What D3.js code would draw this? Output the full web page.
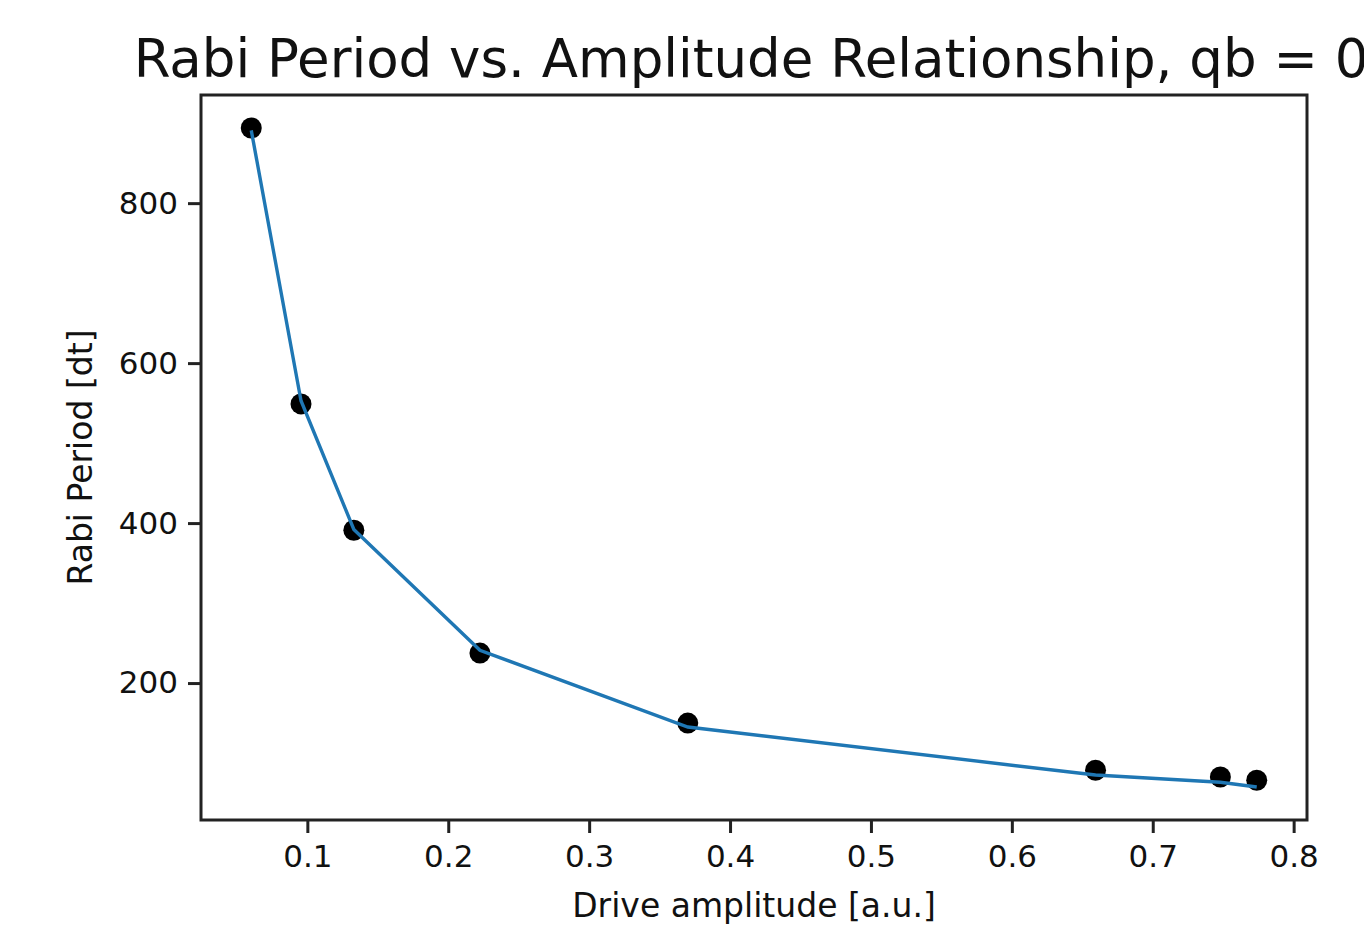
<!DOCTYPE html>
<html>
<head>
<meta charset="utf-8">
<script src="https://cdn.jsdelivr.net/npm/d3@7"></script>
<style>
  body { margin: 0; background: #fff; }
  svg text { font-family: "DejaVu Sans", sans-serif; fill: #111; }
</style>
</head>
<body>
<div id="chart"></div>
<script>
const amplitudes = [0.0602, 0.0955, 0.1330, 0.2225, 0.3700, 0.6594, 0.7480, 0.7738]
const periods = [894, 549, 391, 237.5, 150, 91, 82.5, 78.5]
const fitPeriods = [891, 553, 392, 241, 145, 85, 76, 70]
const xTicks = [0.1, 0.2, 0.3, 0.4, 0.5, 0.6, 0.7, 0.8]
const yTicks = [200, 400, 600, 800]

const W = 1364, H = 936
const margin = { top: 95, right: 57, bottom: 116, left: 201 }
const width = W - margin.left - margin.right
const height = H - margin.top - margin.bottom

const svg = d3.select("#chart")
    .append("svg")
    .attr("width", W)
    .attr("height", H)

const g = svg.append("g")
    .attr("transform", `translate(${margin.left},${margin.top})`)

// matplotlib style 5% padding around the data
function padded(vals) {
    const [lo, hi] = d3.extent(vals)
    const pad = (hi - lo) * 0.05
    return [lo - pad, hi + pad]
}

const x = d3.scaleLinear()
    .domain(padded(amplitudes))
    .range([0, width])

const y = d3.scaleLinear()
    .domain(padded(periods.concat(fitPeriods)))
    .range([height, 0])

// axes
const xAxis = g.append("g")
    .attr("transform", `translate(0,${height})`)
    .call(d3.axisBottom(x).tickValues(xTicks).tickFormat(d3.format(".1f")).tickSize(13).tickPadding(12))

const yAxis = g.append("g")
    .call(d3.axisLeft(y).tickValues(yTicks).tickSize(13).tickPadding(10))

for (const ax of [xAxis, yAxis]) {
    ax.select(".domain").remove()
    ax.selectAll(".tick line").attr("stroke", "#222").attr("stroke-width", 3)
    ax.selectAll(".tick text")
        .style("font-size", "31px")
        .style("font-family", "DejaVu Sans")
        .attr("fill", "#111")
}

// frame
g.append("rect")
    .attr("width", width)
    .attr("height", height)
    .attr("fill", "none")
    .attr("stroke", "#222")
    .attr("stroke-width", 3)

const pts = amplitudes.map((a, i) => ({ a: a, p: periods[i], f: fitPeriods[i] }))

// data points
g.selectAll("circle")
    .data(pts)
    .enter().append("circle")
    .attr("cx", d => x(d.a))
    .attr("cy", d => y(d.p))
    .attr("r", 10.5)
    .attr("fill", "#000")

// fitted curve on top
g.append("path")
    .datum(pts)
    .attr("fill", "none")
    .attr("stroke", "#1f77b4")
    .attr("stroke-width", 3.4)
    .attr("d", d3.line().x(d => x(d.a)).y(d => y(d.f)))

// labels
svg.append("text")
    .attr("x", margin.left + width / 2 - 3)
    .attr("y", 77)
    .attr("text-anchor", "middle")
    .style("font-size", "53px")
    .text("Rabi Period vs. Amplitude Relationship, qb = 0")

svg.append("text")
    .attr("x", margin.left + width / 2)
    .attr("y", 917)
    .attr("text-anchor", "middle")
    .style("font-size", "33px")
    .text("Drive amplitude [a.u.]")

svg.append("text")
    .attr("transform", `translate(92,${margin.top + height / 2}) rotate(-90)`)
    .attr("text-anchor", "middle")
    .style("font-size", "33px")
    .text("Rabi Period [dt]")
</script>
</body>
</html>
